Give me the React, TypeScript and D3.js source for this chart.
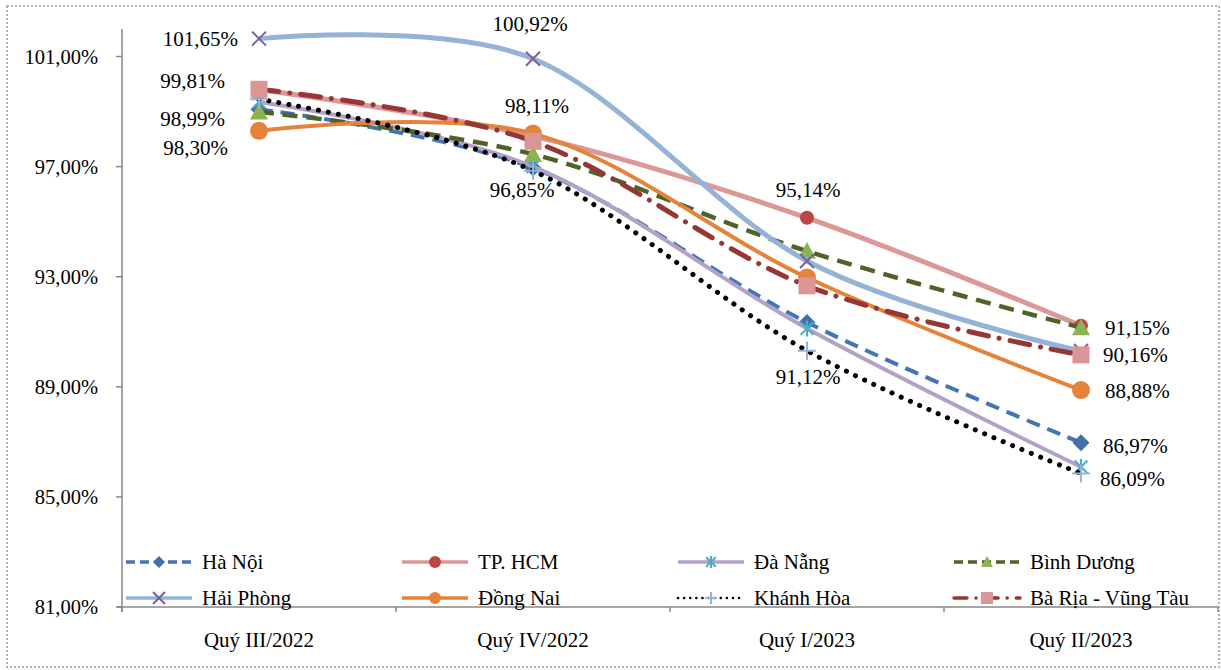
import React from "react";
import * as d3 from "d3";

// Quarterly ratio (%) by province / city
const quarters = ["Quý III/2022", "Quý IV/2022", "Quý I/2023", "Quý II/2023"];

const haNoi = [99.08, 96.95, 91.34, 86.97];
const tpHcm = [99.8, 98.11, 95.14, 91.22];
const daNang = [99.35, 97.0, 91.12, 86.09];
const binhDuong = [98.99, 97.45, 93.93, 91.15];
const haiPhong = [101.65, 100.92, 93.57, 90.3];
const dongNai = [98.3, 98.2, 92.97, 88.88];
const khanhHoa = [99.45, 96.85, 90.31, 85.85];
const baRia = [99.81, 97.92, 92.67, 90.16];

const yTicks = [81, 85, 89, 93, 97, 101];

type Shape = "diamond" | "circle" | "asterisk" | "triangle" | "x" | "plus" | "square";

interface Series {
  name: string;
  values: number[];
  line: string;
  width: number;
  dash?: string;
  cap?: "round" | "butt";
  legendDash?: string;
  shape: Shape;
  marker: string;
  size: number;
}

const series: Series[] = [
  { name: "Hà Nội", values: haNoi, line: "#4374B3", width: 4, dash: "14 8", shape: "diamond", marker: "#4270AA", size: 8.5 },
  { name: "TP. HCM", values: tpHcm, line: "#DC9896", width: 5, shape: "circle", marker: "#B94744", size: 7 },
  { name: "Đà Nẵng", values: daNang, line: "#B3A2C7", width: 4, shape: "asterisk", marker: "#4BACC6", size: 8 },
  { name: "Bình Dương", values: binhDuong, line: "#4F6228", width: 4.5, dash: "15 9", shape: "triangle", marker: "#8DB254", size: 9 },
  { name: "Hải Phòng", values: haiPhong, line: "#95B3D7", width: 5, shape: "x", marker: "#7D5FA0", size: 7 },
  { name: "Đồng Nai", values: dongNai, line: "#E6833A", width: 4, shape: "circle", marker: "#E6833A", size: 9 },
  { name: "Khánh Hòa", values: khanhHoa, line: "#000000", width: 5, dash: "0.1 10", cap: "round", legendDash: "0.1 6", shape: "plus", marker: "#95B3D7", size: 9 },
  { name: "Bà Rịa - Vũng Tàu", values: baRia, line: "#953735", width: 5, dash: "20 11 0.1 11", cap: "round", legendDash: "13 9 0.1 9", shape: "square", marker: "#D99694", size: 8.5 },
];

// Data labels: series index, quarter index, offset from the marker
const labels = [
  { s: 4, q: 0, dx: -21, dy: 0, anchor: "end" },
  { s: 7, q: 0, dx: -34, dy: -8, anchor: "end" },
  { s: 3, q: 0, dx: -34, dy: 7, anchor: "end" },
  { s: 5, q: 0, dx: -31, dy: 17, anchor: "end" },
  { s: 4, q: 1, dx: -3, dy: -35, anchor: "middle" },
  { s: 1, q: 1, dx: 4, dy: -30, anchor: "middle" },
  { s: 6, q: 1, dx: -11, dy: 19, anchor: "middle" },
  { s: 1, q: 2, dx: 1, dy: -28, anchor: "middle" },
  { s: 2, q: 2, dx: 1, dy: 49, anchor: "middle" },
  { s: 3, q: 3, dx: 24, dy: 0, anchor: "start" },
  { s: 7, q: 3, dx: 22, dy: 0, anchor: "start" },
  { s: 5, q: 3, dx: 24, dy: 1, anchor: "start" },
  { s: 0, q: 3, dx: 22, dy: 3, anchor: "start" },
  { s: 2, q: 3, dx: 19, dy: 12, anchor: "start" },
];

const W = 1221;
const H = 670;
const plot = { left: 122, right: 1218, top: 29, bottom: 607 };
const FONT = "Liberation Serif, Times New Roman, serif";
const FS = 21;

const x = d3.scalePoint<string>().domain(quarters).range([plot.left, plot.right]).padding(0.5);
const y = d3.scaleLinear().domain([81, 102]).range([plot.bottom, plot.top]);

const fmt = (v: number) => v.toFixed(2).replace(".", ",") + "%";

function Marker({ shape, cx, cy, r, color }: { shape: Shape; cx: number; cy: number; r: number; color: string }) {
  switch (shape) {
    case "circle":
      return <circle cx={cx} cy={cy} r={r} fill={color} />;
    case "diamond":
      return <path d={`M${cx},${cy - r}L${cx + r},${cy}L${cx},${cy + r}L${cx - r},${cy}Z`} fill={color} />;
    case "square":
      return <rect x={cx - r} y={cy - r} width={2 * r} height={2 * r} fill={color} />;
    case "triangle":
      return <path d={`M${cx},${cy - r}L${cx + r},${cy + r * 0.85}L${cx - r},${cy + r * 0.85}Z`} fill={color} />;
    case "x":
      return (
        <path d={`M${cx - r},${cy - r}L${cx + r},${cy + r}M${cx + r},${cy - r}L${cx - r},${cy + r}`} stroke={color} strokeWidth={2} fill="none" />
      );
    case "plus":
      return (
        <path d={`M${cx - r},${cy}L${cx + r},${cy}M${cx},${cy - r}L${cx},${cy + r}`} stroke={color} strokeWidth={2} fill="none" />
      );
    case "asterisk":
      return (
        <path
          d={`M${cx - r * 0.8},${cy - r * 0.8}L${cx + r * 0.8},${cy + r * 0.8}M${cx + r * 0.8},${cy - r * 0.8}L${cx - r * 0.8},${cy + r * 0.8}M${cx},${cy - r}L${cx},${cy + r}`}
          stroke={color}
          strokeWidth={2}
          fill="none"
        />
      );
  }
  return null;
}

export default function App() {
  const lineGen = d3
    .line<number>()
    .x((_, i) => x(quarters[i]) as number)
    .y((v) => y(v))
    .curve(d3.curveCardinal.tension(0));

  const legendCols = [126, 402, 678, 954];
  const legendRows = [562, 598];

  return (
    <svg width={W} height={H} style={{ position: "absolute", left: 0, top: 0, background: "#fff", fontFamily: FONT }}>
      <rect x={7} y={6} width={1212} height={661} fill="none" stroke="#9a9a9a" strokeWidth={1.5} strokeDasharray="2 2" />

      {/* axes */}
      <line x1={plot.left} x2={plot.left} y1={plot.top} y2={plot.bottom + 5} stroke="#878787" strokeWidth={1.5} />
      <line x1={plot.left - 5} x2={plot.right} y1={plot.bottom} y2={plot.bottom} stroke="#878787" strokeWidth={1.5} />
      {yTicks.map((t) => (
        <g key={t}>
          <line x1={plot.left - 6} x2={plot.left} y1={y(t)} y2={y(t)} stroke="#878787" strokeWidth={1.5} />
          <text x={98} y={y(t)} textAnchor="end" dominantBaseline="central" fontSize={20.5} fill="#000">
            {fmt(t)}
          </text>
        </g>
      ))}
      {d3.range(quarters.length + 1).map((i) => {
        const tx = plot.left + x.step() * i;
        return <line key={i} x1={tx} x2={tx} y1={plot.bottom} y2={plot.bottom + 5} stroke="#878787" strokeWidth={1.5} />;
      })}
      {quarters.map((q) => (
        <text key={q} x={x(q)} y={640} textAnchor="middle" dominantBaseline="central" fontSize={FS} fill="#000">
          {q}
        </text>
      ))}

      {/* series */}
      {series.map((s) => (
        <g key={s.name}>
          <path
            d={lineGen(s.values) || ""}
            fill="none"
            stroke={s.line}
            strokeWidth={s.width}
            strokeDasharray={s.dash}
            strokeLinecap={s.cap || "butt"}
            strokeLinejoin="round"
          />
          {s.values.map((v, i) => (
            <Marker key={i} shape={s.shape} cx={x(quarters[i]) as number} cy={y(v)} r={s.size} color={s.marker} />
          ))}
        </g>
      ))}

      {/* data labels */}
      {labels.map((l, i) => {
        const s = series[l.s];
        const v = s.values[l.q];
        return (
          <text
            key={i}
            x={(x(quarters[l.q]) as number) + l.dx}
            y={y(v) + l.dy}
            textAnchor={l.anchor as any}
            dominantBaseline="central"
            fontSize={FS}
            fill="#000"
          >
            {fmt(v)}
          </text>
        );
      })}

      {/* legend */}
      {series.map((s, i) => {
        const lx = legendCols[i % 4];
        const ly = legendRows[Math.floor(i / 4)];
        return (
          <g key={s.name}>
            <line
              x1={lx}
              x2={lx + 66}
              y1={ly}
              y2={ly}
              stroke={s.line}
              strokeWidth={s.shape === "plus" ? 2.5 : 3.5}
              strokeDasharray={s.legendDash || (s.dash ? "9 5" : undefined)}
              strokeLinecap={s.cap || "butt"}
            />
            <Marker shape={s.shape} cx={lx + 33} cy={ly} r={6} color={s.marker} />
            <text x={lx + 76} y={ly} dominantBaseline="central" fontSize={FS} fill="#000">
              {s.name}
            </text>
          </g>
        );
      })}
    </svg>
  );
}
